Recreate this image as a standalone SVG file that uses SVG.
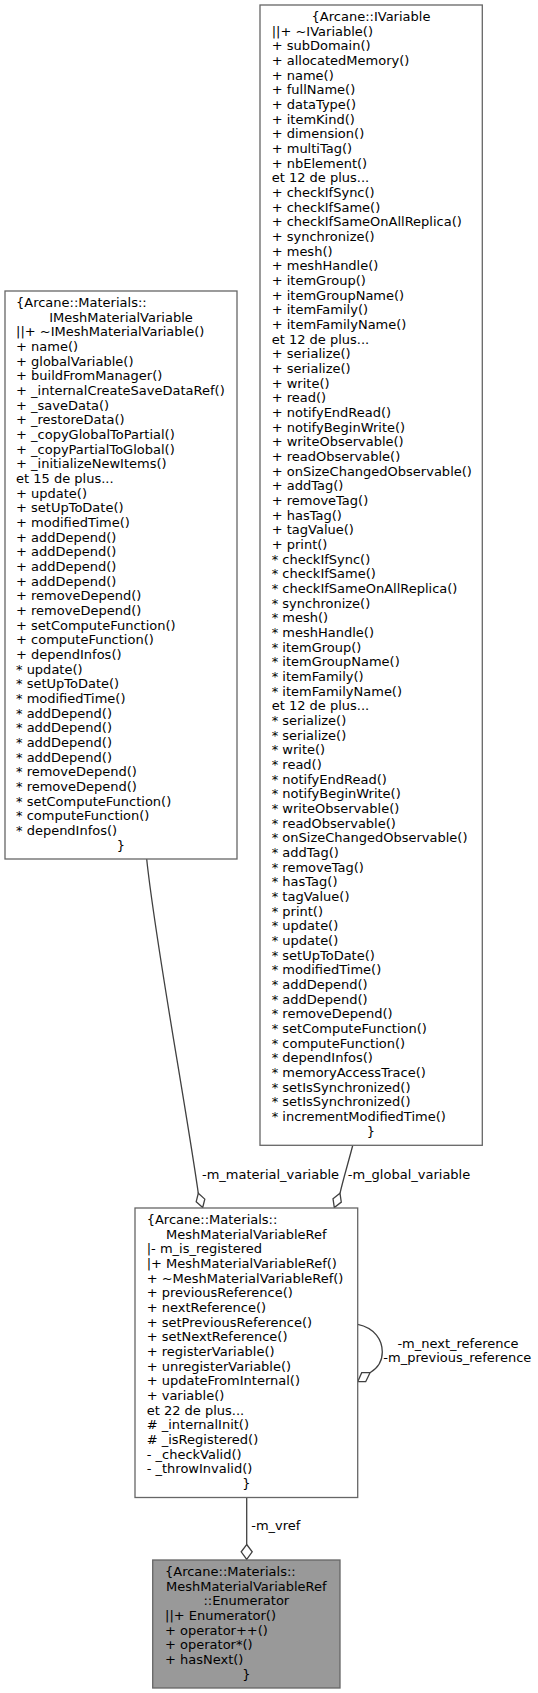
<svg xmlns="http://www.w3.org/2000/svg" width="538" height="1693" viewBox="0 0 538 1693">
<style>
text{font-family:"DejaVu Sans","Liberation Sans",sans-serif;font-size:13px;fill:#000}
.box{fill:#fff;stroke:#666;stroke-width:1.3}
.cur{fill:#999;stroke:#666;stroke-width:1.3}
.edge{fill:none;stroke:#404040;stroke-width:1.3}
.head{fill:#fff;stroke:#404040;stroke-width:1.3}
.c{text-anchor:middle}
</style>
<rect width="538" height="1693" fill="#fff"/>
<g id="connectors">
<path class="edge" d="M146.7,859 C155,940 185,1100 198.3,1193.3"/>
<polygon class="head" points="198.3,1193.3 204.8,1199.1 202.7,1207.5 196.2,1201.7"/>
<text class="c" x="270.5" y="1179.3">-m_material_variable</text>
<path class="edge" d="M352.7,1145.5 C349,1160 343,1180 340,1193.3"/>
<polygon class="head" points="340,1193.3 341.3,1202.1 334.3,1207.5 333,1198.7"/>
<text class="c" x="409" y="1179.3">-m_global_variable</text>
<path class="edge" d="M357.7,1324.3 C375,1328 382.3,1340 382.3,1352 C382.3,1362 378,1368 370,1372.7"/>
<polygon class="head" points="370,1372.7 365.7,1381.7 357.7,1381.7 361.7,1372.7"/>
<text class="c" x="458" y="1347.7">-m_next_reference</text>
<text class="c" x="457.3" y="1361.7">-m_previous_reference</text>
<path class="edge" d="M246.7,1497.5 L246.7,1544.5"/>
<polygon class="head" points="246.7,1544.5 252.2,1551.8 246.7,1559.5 241.2,1551.8"/>
<text class="c" x="275.8" y="1530">-m_vref</text>
</g>
<g id="node-IMeshMaterialVariable">
<rect class="box" x="5" y="291" width="232" height="568"/>
<text y="307"><tspan x="16">{Arcane::Materials::</tspan><tspan x="121" dy="14.667" class="c">IMeshMaterialVariable</tspan><tspan x="16" dy="14.667">||+ ~IMeshMaterialVariable()</tspan><tspan x="16" dy="14.667">+ name()</tspan><tspan x="16" dy="14.667">+ globalVariable()</tspan><tspan x="16" dy="14.667">+ buildFromManager()</tspan><tspan x="16" dy="14.667">+ _internalCreateSaveDataRef()</tspan><tspan x="16" dy="14.667">+ _saveData()</tspan><tspan x="16" dy="14.667">+ _restoreData()</tspan><tspan x="16" dy="14.667">+ _copyGlobalToPartial()</tspan><tspan x="16" dy="14.667">+ _copyPartialToGlobal()</tspan><tspan x="16" dy="14.667">+ _initializeNewItems()</tspan><tspan x="16" dy="14.667">et 15 de plus...</tspan><tspan x="16" dy="14.667">+ update()</tspan><tspan x="16" dy="14.667">+ setUpToDate()</tspan><tspan x="16" dy="14.667">+ modifiedTime()</tspan><tspan x="16" dy="14.667">+ addDepend()</tspan><tspan x="16" dy="14.667">+ addDepend()</tspan><tspan x="16" dy="14.667">+ addDepend()</tspan><tspan x="16" dy="14.667">+ addDepend()</tspan><tspan x="16" dy="14.667">+ removeDepend()</tspan><tspan x="16" dy="14.667">+ removeDepend()</tspan><tspan x="16" dy="14.667">+ setComputeFunction()</tspan><tspan x="16" dy="14.667">+ computeFunction()</tspan><tspan x="16" dy="14.667">+ dependInfos()</tspan><tspan x="16" dy="14.667">* update()</tspan><tspan x="16" dy="14.667">* setUpToDate()</tspan><tspan x="16" dy="14.667">* modifiedTime()</tspan><tspan x="16" dy="14.667">* addDepend()</tspan><tspan x="16" dy="14.667">* addDepend()</tspan><tspan x="16" dy="14.667">* addDepend()</tspan><tspan x="16" dy="14.667">* addDepend()</tspan><tspan x="16" dy="14.667">* removeDepend()</tspan><tspan x="16" dy="14.667">* removeDepend()</tspan><tspan x="16" dy="14.667">* setComputeFunction()</tspan><tspan x="16" dy="14.667">* computeFunction()</tspan><tspan x="16" dy="14.667">* dependInfos()</tspan><tspan x="121" dy="14.667" class="c">}</tspan></text>
</g>
<g id="node-IVariable">
<rect class="box" x="260" y="5" width="222.3" height="1140.3"/>
<text y="21"><tspan x="371" class="c">{Arcane::IVariable</tspan><tspan x="271.7" dy="14.667">||+ ~IVariable()</tspan><tspan x="271.7" dy="14.667">+ subDomain()</tspan><tspan x="271.7" dy="14.667">+ allocatedMemory()</tspan><tspan x="271.7" dy="14.667">+ name()</tspan><tspan x="271.7" dy="14.667">+ fullName()</tspan><tspan x="271.7" dy="14.667">+ dataType()</tspan><tspan x="271.7" dy="14.667">+ itemKind()</tspan><tspan x="271.7" dy="14.667">+ dimension()</tspan><tspan x="271.7" dy="14.667">+ multiTag()</tspan><tspan x="271.7" dy="14.667">+ nbElement()</tspan><tspan x="271.7" dy="14.667">et 12 de plus...</tspan><tspan x="271.7" dy="14.667">+ checkIfSync()</tspan><tspan x="271.7" dy="14.667">+ checkIfSame()</tspan><tspan x="271.7" dy="14.667">+ checkIfSameOnAllReplica()</tspan><tspan x="271.7" dy="14.667">+ synchronize()</tspan><tspan x="271.7" dy="14.667">+ mesh()</tspan><tspan x="271.7" dy="14.667">+ meshHandle()</tspan><tspan x="271.7" dy="14.667">+ itemGroup()</tspan><tspan x="271.7" dy="14.667">+ itemGroupName()</tspan><tspan x="271.7" dy="14.667">+ itemFamily()</tspan><tspan x="271.7" dy="14.667">+ itemFamilyName()</tspan><tspan x="271.7" dy="14.667">et 12 de plus...</tspan><tspan x="271.7" dy="14.667">+ serialize()</tspan><tspan x="271.7" dy="14.667">+ serialize()</tspan><tspan x="271.7" dy="14.667">+ write()</tspan><tspan x="271.7" dy="14.667">+ read()</tspan><tspan x="271.7" dy="14.667">+ notifyEndRead()</tspan><tspan x="271.7" dy="14.667">+ notifyBeginWrite()</tspan><tspan x="271.7" dy="14.667">+ writeObservable()</tspan><tspan x="271.7" dy="14.667">+ readObservable()</tspan><tspan x="271.7" dy="14.667">+ onSizeChangedObservable()</tspan><tspan x="271.7" dy="14.667">+ addTag()</tspan><tspan x="271.7" dy="14.667">+ removeTag()</tspan><tspan x="271.7" dy="14.667">+ hasTag()</tspan><tspan x="271.7" dy="14.667">+ tagValue()</tspan><tspan x="271.7" dy="14.667">+ print()</tspan><tspan x="271.7" dy="14.667">* checkIfSync()</tspan><tspan x="271.7" dy="14.667">* checkIfSame()</tspan><tspan x="271.7" dy="14.667">* checkIfSameOnAllReplica()</tspan><tspan x="271.7" dy="14.667">* synchronize()</tspan><tspan x="271.7" dy="14.667">* mesh()</tspan><tspan x="271.7" dy="14.667">* meshHandle()</tspan><tspan x="271.7" dy="14.667">* itemGroup()</tspan><tspan x="271.7" dy="14.667">* itemGroupName()</tspan><tspan x="271.7" dy="14.667">* itemFamily()</tspan><tspan x="271.7" dy="14.667">* itemFamilyName()</tspan><tspan x="271.7" dy="14.667">et 12 de plus...</tspan><tspan x="271.7" dy="14.667">* serialize()</tspan><tspan x="271.7" dy="14.667">* serialize()</tspan><tspan x="271.7" dy="14.667">* write()</tspan><tspan x="271.7" dy="14.667">* read()</tspan><tspan x="271.7" dy="14.667">* notifyEndRead()</tspan><tspan x="271.7" dy="14.667">* notifyBeginWrite()</tspan><tspan x="271.7" dy="14.667">* writeObservable()</tspan><tspan x="271.7" dy="14.667">* readObservable()</tspan><tspan x="271.7" dy="14.667">* onSizeChangedObservable()</tspan><tspan x="271.7" dy="14.667">* addTag()</tspan><tspan x="271.7" dy="14.667">* removeTag()</tspan><tspan x="271.7" dy="14.667">* hasTag()</tspan><tspan x="271.7" dy="14.667">* tagValue()</tspan><tspan x="271.7" dy="14.667">* print()</tspan><tspan x="271.7" dy="14.667">* update()</tspan><tspan x="271.7" dy="14.667">* update()</tspan><tspan x="271.7" dy="14.667">* setUpToDate()</tspan><tspan x="271.7" dy="14.667">* modifiedTime()</tspan><tspan x="271.7" dy="14.667">* addDepend()</tspan><tspan x="271.7" dy="14.667">* addDepend()</tspan><tspan x="271.7" dy="14.667">* removeDepend()</tspan><tspan x="271.7" dy="14.667">* setComputeFunction()</tspan><tspan x="271.7" dy="14.667">* computeFunction()</tspan><tspan x="271.7" dy="14.667">* dependInfos()</tspan><tspan x="271.7" dy="14.667">* memoryAccessTrace()</tspan><tspan x="271.7" dy="14.667">* setIsSynchronized()</tspan><tspan x="271.7" dy="14.667">* setIsSynchronized()</tspan><tspan x="271.7" dy="14.667">* incrementModifiedTime()</tspan><tspan x="371" dy="14.667" class="c">}</tspan></text>
</g>
<g id="node-MeshMaterialVariableRef">
<rect class="box" x="135" y="1208" width="222.7" height="289.5"/>
<text y="1224"><tspan x="146.7">{Arcane::Materials::</tspan><tspan x="246.3" dy="14.667" class="c">MeshMaterialVariableRef</tspan><tspan x="146.7" dy="14.667">|- m_is_registered</tspan><tspan x="146.7" dy="14.667">|+ MeshMaterialVariableRef()</tspan><tspan x="146.7" dy="14.667">+ ~MeshMaterialVariableRef()</tspan><tspan x="146.7" dy="14.667">+ previousReference()</tspan><tspan x="146.7" dy="14.667">+ nextReference()</tspan><tspan x="146.7" dy="14.667">+ setPreviousReference()</tspan><tspan x="146.7" dy="14.667">+ setNextReference()</tspan><tspan x="146.7" dy="14.667">+ registerVariable()</tspan><tspan x="146.7" dy="14.667">+ unregisterVariable()</tspan><tspan x="146.7" dy="14.667">+ updateFromInternal()</tspan><tspan x="146.7" dy="14.667">+ variable()</tspan><tspan x="146.7" dy="14.667">et 22 de plus...</tspan><tspan x="146.7" dy="14.667"># _internalInit()</tspan><tspan x="146.7" dy="14.667"># _isRegistered()</tspan><tspan x="146.7" dy="14.667">- _checkValid()</tspan><tspan x="146.7" dy="14.667">- _throwInvalid()</tspan><tspan x="246.3" dy="14.667" class="c">}</tspan></text>
</g>
<g id="node-Enumerator">
<rect class="cur" x="152.7" y="1560" width="187.3" height="128"/>
<text y="1576"><tspan x="165">{Arcane::Materials::</tspan><tspan x="246.3" dy="14.667" class="c">MeshMaterialVariableRef</tspan><tspan x="246.3" dy="14.667" class="c">::Enumerator</tspan><tspan x="165" dy="14.667">||+ Enumerator()</tspan><tspan x="165" dy="14.667">+ operator++()</tspan><tspan x="165" dy="14.667">+ operator*()</tspan><tspan x="165" dy="14.667">+ hasNext()</tspan><tspan x="246.3" dy="14.667" class="c">}</tspan></text>
</g>
</svg>
